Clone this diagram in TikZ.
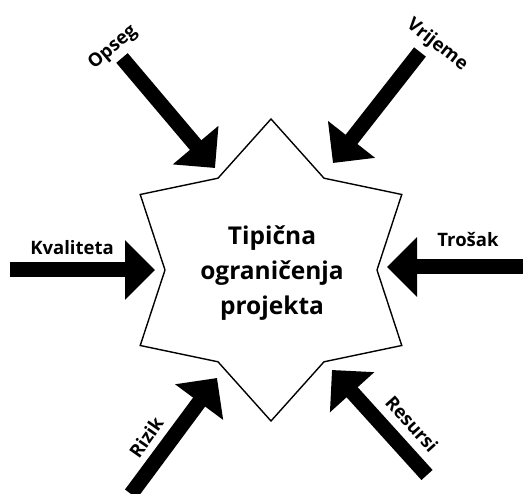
\documentclass[tikz,border=0pt]{standalone}
\usepackage{fontspec}
\setmainfont{Open Sans}
\usetikzlibrary{arrows.meta}

\begin{document}
\begin{tikzpicture}[x=1pt,y=-1pt,
    push/.style={line width=15pt,-{Triangle[length=30pt,width=58pt]}},
    tag/.style={font=\bfseries\fontsize{18.5}{22}\selectfont}]
    \useasboundingbox (0,0) rectangle (523,494);

    % the star
    \begin{scope}[shift={(271,270)}]
        \draw[line width=1.4pt] (90:151) -- (60:106) -- (30:151) -- (0:106)
            -- (-30:151) -- (-60:106) -- (-90:151) -- (-120:106)
            -- (-150:151) -- (180:106) -- (150:151) -- (120:106) -- cycle;
    \end{scope}
    \node[align=center, font=\bfseries\fontsize{24.5}{35}\selectfont] (core) at (272,273) {Tipična\\ograničenja\\projekta};

    % tails and tips of the arrows
    \coordinate (opsegA) at (122,58);   \coordinate (opsegB) at (215,168);
    \coordinate (vrijemeA) at (420,52); \coordinate (vrijemeB) at (333,163);
    \coordinate (kvalA) at (10,270);    \coordinate (kvalB) at (155,270);
    \coordinate (trosakA) at (523,267); \coordinate (trosakB) at (387,267);
    \coordinate (rizikA) at (131,494);  \coordinate (rizikB) at (217,378);
    \coordinate (resA) at (427,475);    \coordinate (resB) at (332,370);

    \foreach \a/\b in {opsegA/opsegB, vrijemeA/vrijemeB, kvalA/kvalB,
                       trosakA/trosakB, rizikA/rizikB, resA/resB}
        \draw[push] (\a) -- (\b);

    % labels
    \node[tag, rotate=40] (opseg) at (113,48) {Opseg};
    \node[tag, rotate=-38] (vrijeme) at (437,45) {Vrijeme};
    \node[tag] (kval) at (72,248) {Kvaliteta};
    \node[tag] (trosak) at (468,240) {Trošak};
    \node[tag, rotate=55] (rizik) at (146,437) {Rizik};
    \node[tag, rotate=-48] (resursi) at (412,424) {Resursi};
\end{tikzpicture}
\end{document}
